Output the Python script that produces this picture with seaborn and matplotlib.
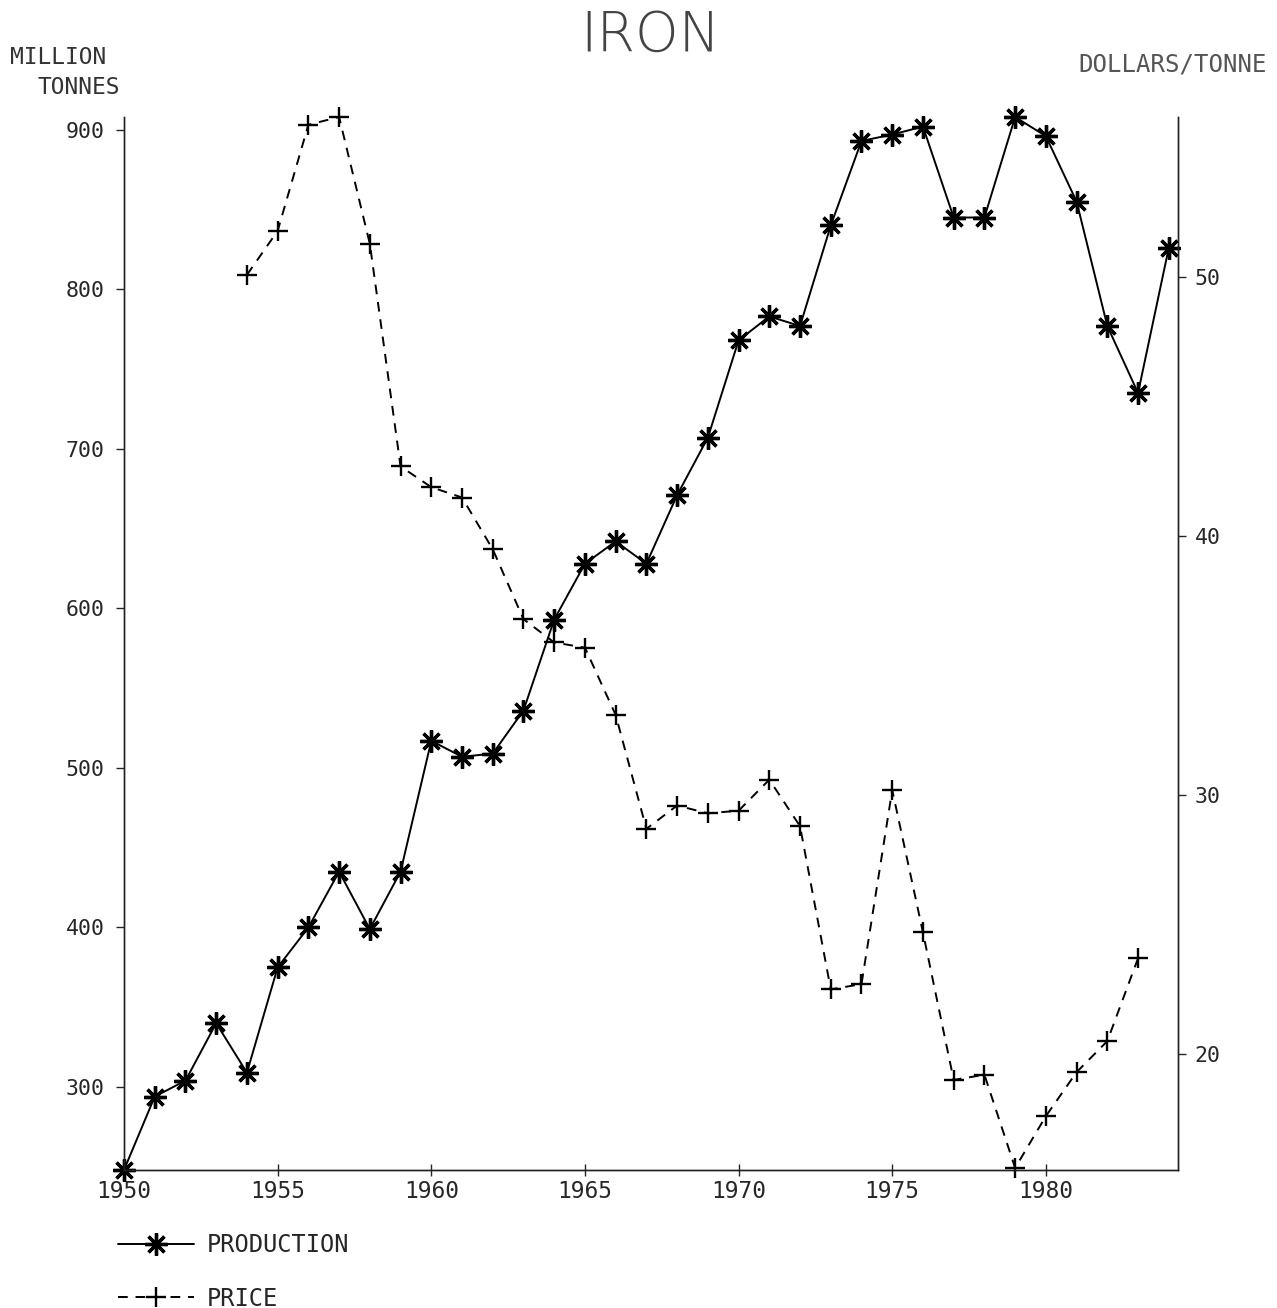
import matplotlib
matplotlib.use("Agg")
import matplotlib.pyplot as plt
import seaborn as sns
import pandas as pd

# ---- data ----
prod_years = list(range(1950, 1985))
production = [248, 294, 304, 340, 309, 375, 400, 435, 399, 435,
              517, 507, 509, 536, 593, 628, 642, 628, 671, 707,
              768, 783, 777, 840, 893, 897, 902, 845, 845, 908,
              896, 855, 777, 735, 826]
price_years = list(range(1954, 1984))
price = [50.1, 51.8, 55.9, 56.2, 51.3, 42.7, 41.9, 41.5, 39.5, 36.8,
         35.9, 35.7, 33.1, 28.7, 29.6, 29.3, 29.4, 30.6, 28.8, 22.5,
         22.7, 30.2, 24.7, 19.0, 19.2, 15.6, 17.6, 19.3, 20.5, 23.7]
left_ticks = [300, 400, 500, 600, 700, 800, 900]
right_ticks = [20, 30, 40, 50]
x_ticks = [1950, 1955, 1960, 1965, 1970, 1975, 1980]

df_prod = pd.DataFrame({"year": prod_years, "value": production})
df_price = pd.DataFrame({"year": price_years, "value": price})

sns.set_style("ticks")
plt.rcParams["font.family"] = ["DejaVu Sans Mono", "DejaVu Sans"]

W, H = 1277, 1308
fig = plt.figure(figsize=(W / 100, H / 100), dpi=100)
ax = fig.add_axes([124 / W, 1 - 1170 / H, (1178 - 124) / W, (1170 - 117) / H])
ax2 = ax.twinx()

sns.lineplot(data=df_prod, x="year", y="value", ax=ax, color="black",
             linewidth=1.4, marker=(8, 2, 0), markersize=16,
             markeredgewidth=2.4, markeredgecolor="black",
             label="PRODUCTION", legend=False, clip_on=False)
sns.lineplot(data=df_price, x="year", y="value", ax=ax2, color="black",
             linewidth=1.4, linestyle=(0, (5, 4)), marker="+", markersize=15,
             markeredgewidth=1.7, markeredgecolor="black",
             label="PRICE", legend=False, clip_on=False)

ax.set_xlim(1950, 1984.3)
ax.set_ylim(248, 908)
ax2.set_ylim(15.52, 56.2)
ax.set_xticks(x_ticks)
ax.set_yticks(left_ticks)
ax2.set_yticks(right_ticks)
ax.set_xlabel("")
ax.set_ylabel("")
ax2.set_ylabel("")

for a in (ax, ax2):
    a.spines["top"].set_visible(False)
    for s in a.spines.values():
        s.set_linewidth(1.0)
        s.set_color("#222222")

ax.tick_params(axis="x", direction="inout", length=8, width=1, labelsize=16.5, pad=3)
ax.tick_params(axis="y", direction="out", length=6, width=1, labelsize=15.5, pad=8)
ax2.tick_params(axis="y", direction="out", length=6, width=1, labelsize=15.5, pad=6)

fig.text(650 / W, 1 - 36 / H, "IRON", ha="center", va="center",
         fontsize=40, color="#444444", fontweight="light",
         family=["DejaVu Sans"])
fig.text(10 / W, 1 - 58 / H, "MILLION", ha="left", va="center",
         fontsize=16.5, color="#333333")
fig.text(38 / W, 1 - 87 / H, "TONNES", ha="left", va="center",
         fontsize=16.5, color="#333333")
fig.text(1078 / W, 1 - 65 / H, "DOLLARS/TONNE", ha="left", va="center",
         fontsize=17.3, color="#555555")

h1, l1 = ax.get_legend_handles_labels()
h2, l2 = ax2.get_legend_handles_labels()
fig.legend(h1 + h2, l1 + l2, loc="upper left",
           bbox_to_anchor=(118 / W, 1 - 1233 / H), frameon=False,
           fontsize=17, handlelength=3.2, handletextpad=0.55,
           labelspacing=1.25, borderpad=0, borderaxespad=0)

fig.savefig("out.png", dpi=100)
